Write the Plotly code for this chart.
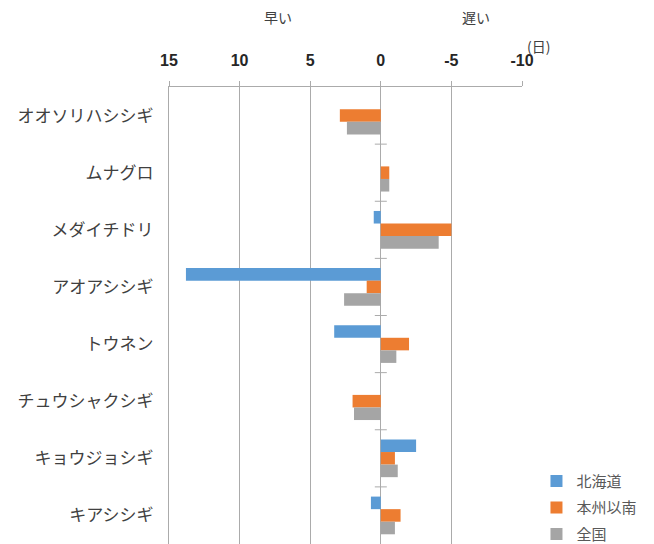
import plotly.graph_objects as go

# Species (top to bottom) and shift in days (positive = earlier)
species = ["オオソリハシシギ", "ムナグロ", "メダイチドリ", "アオアシシギ",
           "トウネン", "チュウシャクシギ", "キョウジョシギ", "キアシシギ"]
hokkaido = [0.0, 0.0, 0.5, 13.8, 3.3, 0.0, -2.5, 0.7]
honshu = [2.9, -0.6, -5.0, 1.0, -2.0, 2.0, -1.0, -1.4]
zenkoku = [2.4, -0.6, -4.1, 2.6, -1.1, 1.9, -1.2, -1.0]

series_names = ["北海道", "本州以南", "全国"]
colors = ["#5B9BD5", "#ED7D31", "#A5A5A5"]
tick_vals = [15, 10, 5, 0, -5, -10]

JP = "Noto Sans CJK JP"
GRID = "#ABABAB"

fig = go.Figure()
for name, vals, col in zip(series_names, [hokkaido, honshu, zenkoku], colors):
    fig.add_trace(go.Bar(
        y=species, x=vals, name=name, orientation="h", legendgroup=name,
        marker=dict(color=col, line=dict(width=0)),
    ))

fig.update_layout(
    width=654, height=544,
    margin=dict(l=169, r=132, t=87, b=0, autoexpand=False),
    paper_bgcolor="white", plot_bgcolor="white",
    barmode="group", bargap=0.34, bargroupgap=0,
    font=dict(family=JP, color="#404040"),
    xaxis=dict(
        side="top", range=[15, -10], tickvals=tick_vals,
        ticktext=[str(v) for v in tick_vals],
        tickfont=dict(family="Liberation Sans", size=16, color="#262626", weight="bold"),
        showgrid=True, gridcolor=GRID, gridwidth=1,
        showline=True, linecolor=GRID, linewidth=1,
        ticks="outside", ticklen=5, tickcolor=GRID, ticklabelstandoff=9,
        zeroline=False, fixedrange=True, automargin=False,
    ),
    yaxis=dict(
        autorange="reversed", type="category",
        tickfont=dict(family=JP, size=17, color="#404040"),
        showline=True, linecolor=GRID, linewidth=1, mirror=False,
        ticks="", ticklabelstandoff=11,
        showgrid=False, fixedrange=True, automargin=False,
    ),
    legend=dict(
        x=1.041, xanchor="left", y=-0.015, yanchor="bottom",
        font=dict(family=JP, size=15, color="#595959"),
        bgcolor="rgba(0,0,0,0)", itemwidth=30,
        traceorder="grouped", tracegroupgap=4,
    ),
    showlegend=True,
)

# Tick marks crossing the zero line between species
for i in range(len(species) - 1):
    fig.add_shape(
        type="line", xref="x", yref="y", xsizemode="pixel", xanchor=0,
        x0=-6, x1=6, y0=i + 0.5, y1=i + 0.5,
        line=dict(color=GRID, width=1),
    )

top_y = lambda py: 1 + (87 - py) / 457
fig.add_annotation(text="早い", xref="paper", yref="paper", x=(261.5 - 169) / 353,
                   y=top_y(17), yanchor="middle", showarrow=False,
                   font=dict(family=JP, size=14, color="#404040"))
fig.add_annotation(text="遅い", xref="paper", yref="paper", x=(491.5 - 169) / 353,
                   y=top_y(17), yanchor="middle", showarrow=False,
                   font=dict(family=JP, size=14, color="#404040"))
fig.add_annotation(text="(日)", xref="paper", yref="paper", x=(552 - 169) / 353,
                   y=top_y(46), yanchor="middle", showarrow=False,
                   font=dict(family=JP, size=14, color="#404040"))

fig.write_html("out.html")
